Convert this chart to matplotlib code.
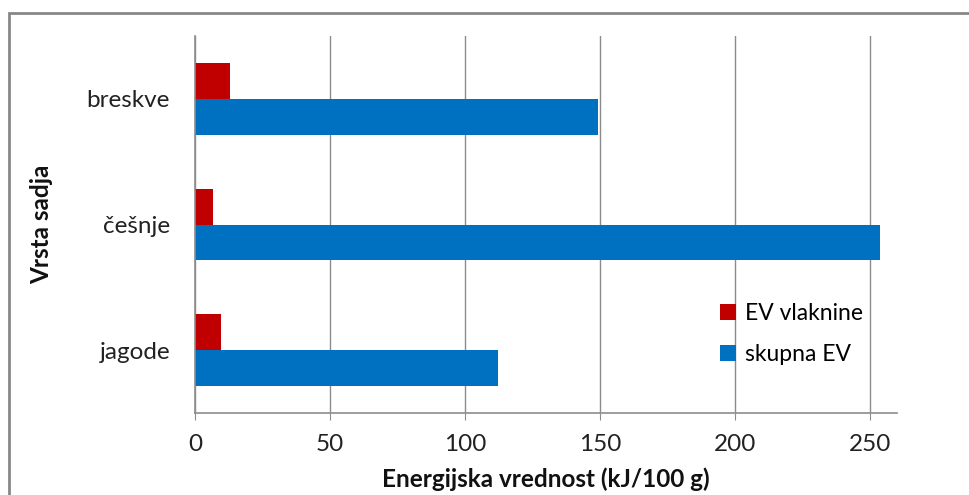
import matplotlib
matplotlib.use("Agg")
import matplotlib.pyplot as plt
from matplotlib.patches import Rectangle, Patch
import numpy as np

plt.rcParams['font.family'] = ['Lato', 'DejaVu Sans']

# Fruit types, listed from bottom to top of the chart
categories = ["jagode", "češnje", "breskve"]
ev_vlaknine = [9.6, 6.8, 13.0]
skupna_ev = [112.2, 253.6, 149.4]
series_names = ["EV vlaknine", "skupna EV"]
x_ticks = [0, 50, 100, 150, 200, 250]

red = "#C00000"
blue = "#0070C0"
grid_gray = "#8C8C8C"
fs = 17.5

W, H = 969, 495
fig = plt.figure(figsize=(W / 100, H / 100), dpi=100)

# Chart border (open to the right and bottom)
fig.patches.append(Rectangle((9 / W, -0.1), 1.2, 1 - 13 / H + 0.1,
                             transform=fig.transFigure, fill=False,
                             edgecolor="#878787", linewidth=2))

ax = fig.add_axes([195 / W, 1 - 413 / H, (897 - 195) / W, (413 - 36) / H])

y = np.arange(len(categories))
h = 0.286
ax.barh(y + h / 2, ev_vlaknine, height=h, color=red, label=series_names[0])
ax.barh(y - h / 2, skupna_ev, height=h, color=blue, label=series_names[1])

ax.set_xlim(0, 260)
ax.set_ylim(-0.5, len(categories) - 0.5)
ax.set_xticks(x_ticks)
ax.set_xticklabels([str(t) for t in x_ticks], fontsize=fs, color="#222222")
ax.set_yticks(y)
ax.set_yticklabels(categories, fontsize=fs, color="#222222")

ax.grid(axis="x", color=grid_gray, linewidth=1)
ax.set_axisbelow(True)
for side in ["top", "right"]:
    ax.spines[side].set_visible(False)
ax.spines["left"].set_color(grid_gray)
ax.spines["bottom"].set_color(grid_gray)
ax.spines["left"].set_linewidth(1.2)
ax.spines["bottom"].set_linewidth(1.2)
ax.tick_params(axis="x", direction="out", length=5, color=grid_gray, pad=10)
ax.tick_params(axis="y", length=0, pad=18)

ax.set_xlabel("Energijska vrednost (kJ/100 g)", fontsize=fs,
              fontweight="bold", labelpad=9, color="#111111")
ax.set_ylabel("Vrsta sadja", fontsize=fs, fontweight="bold",
              labelpad=24, color="#111111")

handles = [Patch(facecolor=red), Patch(facecolor=blue)]
ax.legend(handles, series_names, loc="upper left",
          bbox_to_anchor=((711 - 195) / (897 - 195), (413 - 294) / (413 - 36)),
          frameon=False, fontsize=16.5, handlelength=0.7, handleheight=0.7,
          handletextpad=0.4, labelspacing=0.85, borderaxespad=0)

fig.savefig("out.png", dpi=100)
